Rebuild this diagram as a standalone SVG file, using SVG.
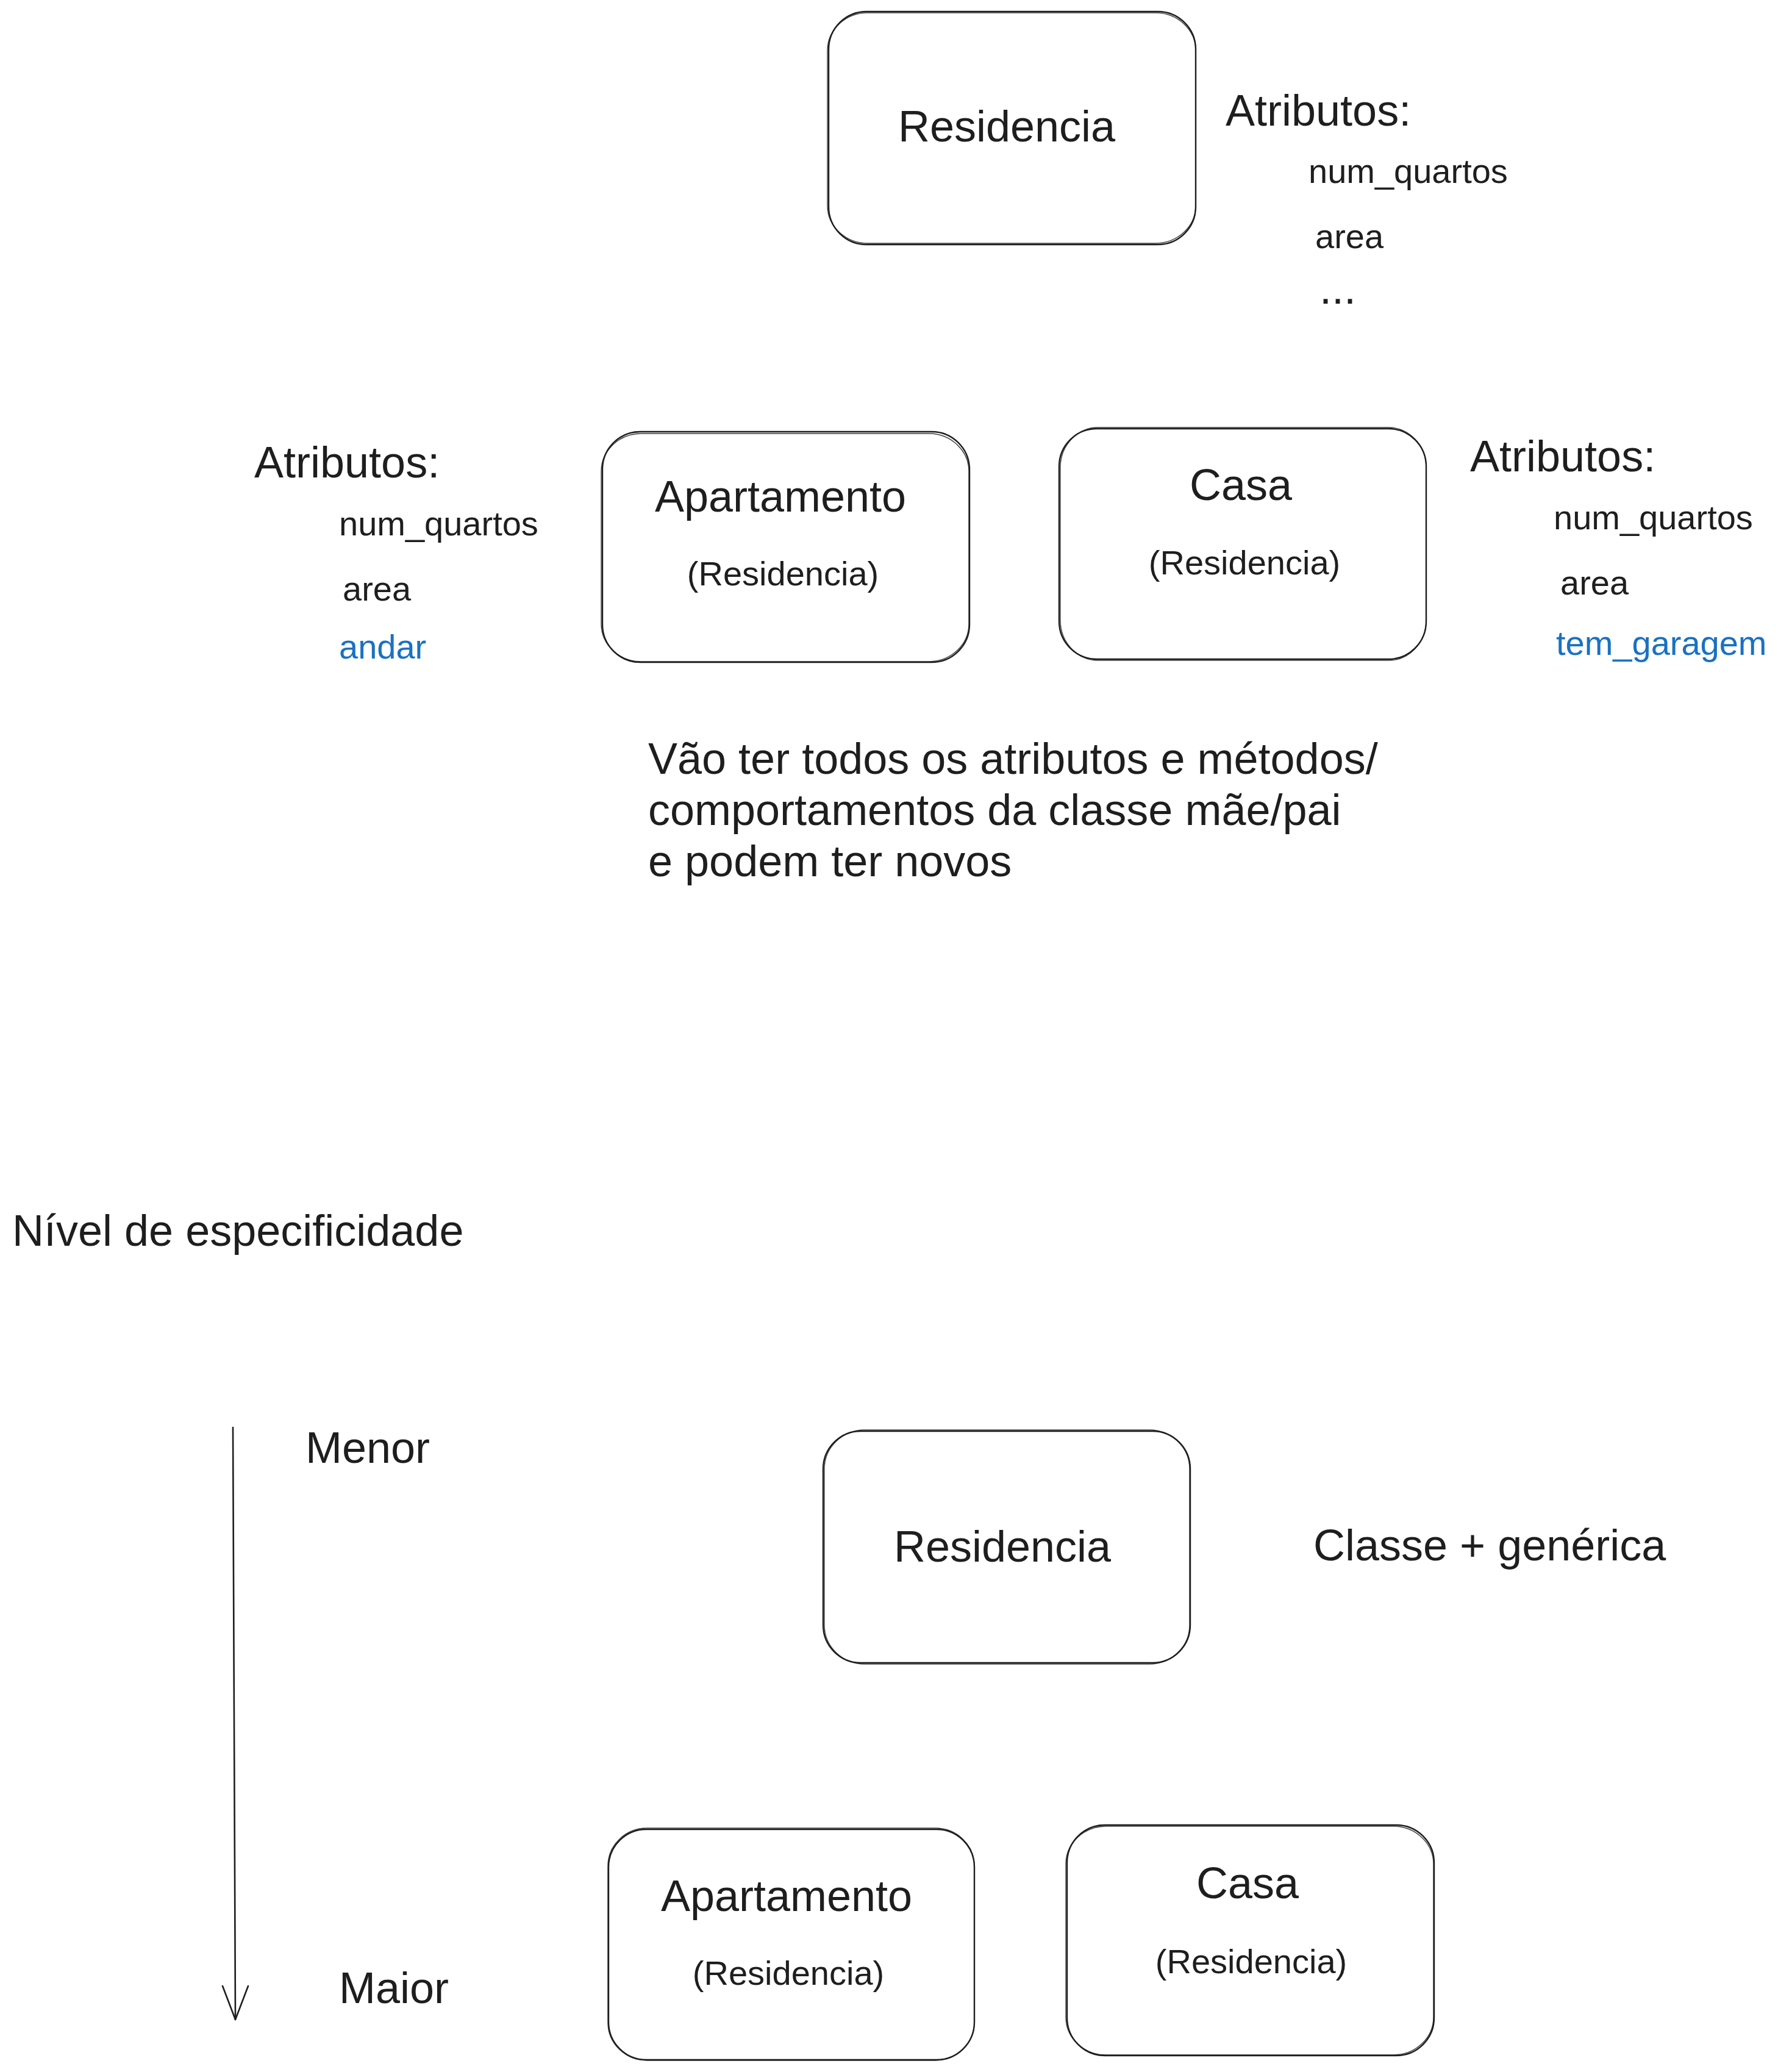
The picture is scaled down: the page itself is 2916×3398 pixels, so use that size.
<svg xmlns="http://www.w3.org/2000/svg" width="2916" height="3398" viewBox="0 0 2916 3398">
<style>
text{font-family:"Liberation Sans",Arial,Helvetica,sans-serif;fill:#1e1e1e}
.t72{font-size:72px}
.t56{font-size:56px}
.c{text-anchor:middle}
.blue{fill:#1971c2}
.b{fill:#ffffff;stroke:#1e1e1e;stroke-width:2.4}
.b2{fill:none;stroke:#1e1e1e;stroke-width:1.4;opacity:0.85}
.conn{fill:none;stroke:#1e1e1e;stroke-width:2.6;stroke-linecap:round;stroke-linejoin:round}
</style>
<rect width="2916" height="3398" fill="#ffffff"/>

<g id="residencia-top">
<rect class="b" x="1359" y="19" width="602" height="382" rx="62" ry="62"/>
<rect class="b2" x="1357" y="21" width="604" height="378" rx="66" ry="62"/>
<text class="t72 c" x="1651" y="232">Residencia</text>
</g>
<g id="atributos-residencia">
<text class="t72" x="2010" y="206">Atributos:</text>
<text class="t56" x="2146" y="300">num_quartos</text>
<text class="t56" x="2157" y="407">area</text>
<text class="t72" x="2164" y="498">...</text>
</g>

<g id="apartamento-top">
<rect class="b" x="988" y="708" width="602" height="378" rx="62" ry="62"/>
<rect class="b2" x="986" y="711" width="603" height="374" rx="66" ry="62"/>
<text class="t72 c" x="1280" y="839">Apartamento</text>
<text class="t56 c" x="1284" y="960">(Residencia)</text>
</g>
<g id="atributos-apartamento">
<text class="t72" x="417" y="783">Atributos:</text>
<text class="t56" x="556" y="878">num_quartos</text>
<text class="t56" x="562" y="985">area</text>
<text class="t56 blue" x="556" y="1080">andar</text>
</g>

<g id="casa-top">
<rect class="b" x="1737" y="703" width="602" height="378" rx="62" ry="62"/>
<rect class="b2" x="1739" y="701" width="600" height="382" rx="62" ry="66"/>
<text class="t72 c" x="2035" y="820">Casa</text>
<text class="t56 c" x="2041" y="942">(Residencia)</text>
</g>
<g id="atributos-casa">
<text class="t72" x="2411" y="773">Atributos:</text>
<text class="t56" x="2548" y="868">num_quartos</text>
<text class="t56" x="2559" y="975">area</text>
<text class="t56 blue" x="2552" y="1074">tem_garagem</text>
</g>

<g id="nota-heranca">
<text class="t72" x="1063" y="1269">Vão ter todos os atributos e métodos/</text>
<text class="t72" x="1063" y="1353">comportamentos da classe mãe/pai</text>
<text class="t72" x="1063" y="1437">e podem ter novos</text>
</g>

<g id="nivel-especificidade">
<text class="t72" x="20" y="2043">Nível de especificidade</text>
<text class="t72" x="501" y="2399">Menor</text>
<text class="t72" x="556" y="3285">Maior</text>
</g>

<g id="residencia-bottom">
<rect class="b" x="1350" y="2347" width="602" height="380" rx="62" ry="62"/>
<rect class="b2" x="1352" y="2345" width="599" height="384" rx="66" ry="64"/>
<text class="t72 c" x="1644" y="2561">Residencia</text>
</g>
<g id="classe-generica">
<text class="t72" x="2154" y="2559">Classe + genérica</text>
</g>

<g id="apartamento-bottom">
<rect class="b" x="998" y="3000" width="600" height="378" rx="62" ry="62"/>
<rect class="b2" x="997" y="2998" width="601" height="381" rx="64" ry="62"/>
<text class="t72 c" x="1290" y="3134">Apartamento</text>
<text class="t56 c" x="1293" y="3255">(Residencia)</text>
</g>

<g id="casa-bottom">
<rect class="b" x="1750" y="2993" width="602" height="378" rx="62" ry="62"/>
<rect class="b2" x="1748" y="2995" width="603" height="375" rx="66" ry="62"/>
<text class="t72 c" x="2046" y="3113">Casa</text>
<text class="t56 c" x="2052" y="3236">(Residencia)</text>
</g>

<g id="connectors">
<path class="conn" d="M382 2341 Q384 2830 386 3312"/>
<path class="conn" d="M365 3257 L386 3312 L407 3257"/>
</g>
</svg>
